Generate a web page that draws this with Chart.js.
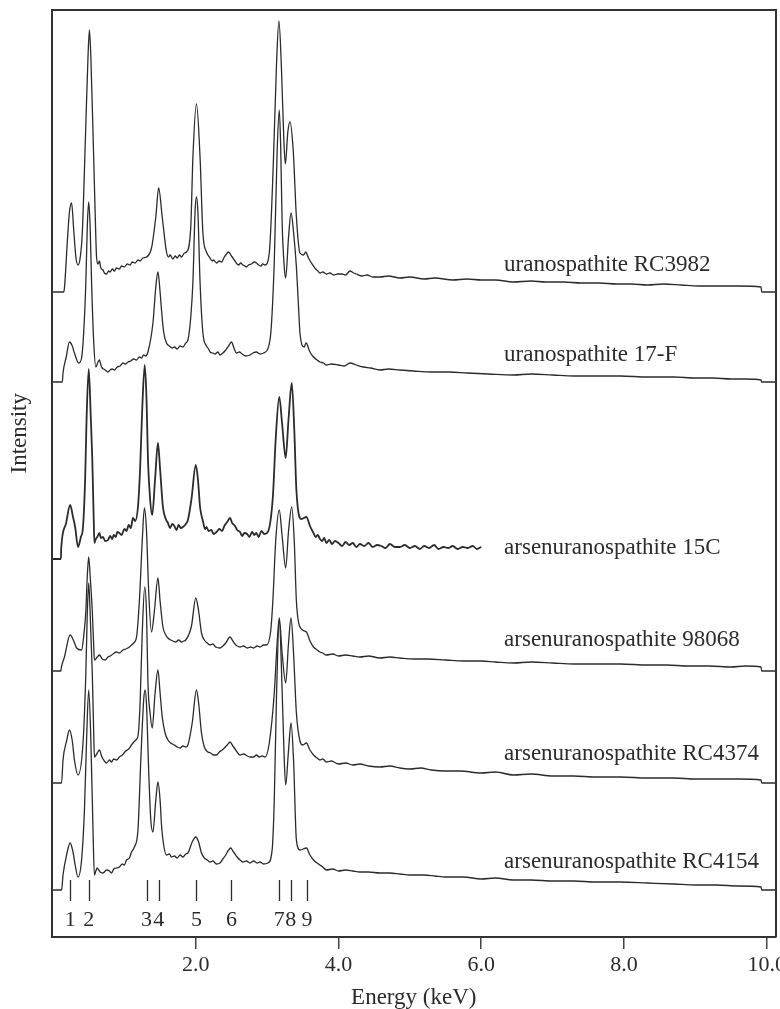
<!DOCTYPE html>
<html>
<head>
<meta charset="utf-8">
<script src="https://cdn.jsdelivr.net/npm/chart.js@4.4.1/dist/chart.umd.min.js"></script>
<style>
  html, body { margin: 0; padding: 0; background: #fff; overflow: hidden; }
</style>
</head>
<body>
<canvas id="chart" width="790" height="1009"></canvas>
<script>
// [energy keV, counts above that spectrum's own baseline]
const rc3982 = [[0,0],[0.15,0],[0.16,4],[0.20,50],[0.23,80],[0.26,89],[0.29,62],[0.32,35],[0.35,27],[0.38,34],[0.41,59],[0.456,159],[0.49,235],[0.51,262],[0.53,235],[0.56,160],[0.59,80],[0.61,35],[0.63,28],[0.65,31],[0.67,24],[0.70,22],[0.72,19],[0.75,18],[0.78,21],[0.80,20],[0.83,23],[0.86,21],[0.89,24],[0.93,23],[0.96,26],[1.00,25],[1.04,28],[1.08,27],[1.11,30],[1.15,29],[1.19,32],[1.22,31],[1.26,34],[1.31,35],[1.38,44],[1.44,75],[1.48,104],[1.53,75],[1.59,40],[1.62,35],[1.64,37],[1.68,33],[1.71,36],[1.74,34],[1.77,37],[1.80,35],[1.84,39],[1.87,40],[1.93,65],[1.96,135],[2.01,188],[2.06,135],[2.10,59],[2.15,40],[2.18,36],[2.20,34],[2.23,31],[2.25,32],[2.29,29],[2.33,31],[2.36,30],[2.40,35],[2.42,37],[2.46,40],[2.50,36],[2.53,33],[2.55,31],[2.58,28],[2.60,27],[2.63,29],[2.66,27],[2.69,26],[2.71,25],[2.74,27],[2.78,28],[2.82,30],[2.85,29],[2.88,27],[2.91,26],[2.94,28],[2.97,27],[3.03,39],[3.085,125],[3.13,225],[3.165,271],[3.20,225],[3.235,150],[3.255,128],[3.29,160],[3.32,170],[3.365,142],[3.41,75],[3.46,39],[3.51,37],[3.54,40],[3.58,34],[3.62,29],[3.65,26],[3.68,23],[3.71,21],[3.74,19],[3.78,20],[3.83,18],[3.88,19],[3.93,17],[3.99,18],[4.05,18],[4.10,17],[4.16,21],[4.21,19],[4.25,18],[4.33,16],[4.40,17],[4.48,15],[4.58,15],[4.70,16],[4.86,14],[5.0,15],[5.2,13],[5.35,14],[5.6,12],[5.8,13],[6.0,12],[6.2,12],[6.45,10],[6.7,11],[6.9,10],[7.15,10],[7.4,9],[7.65,9],[7.9,8],[8.1,8],[8.33,7],[8.55,8],[8.8,7],[9.05,6],[9.3,6],[9.6,6],[9.92,5],[9.93,0],[10.14,0]];
const f17 = [[0,0],[0.13,0],[0.14,9],[0.185,25],[0.23,40],[0.27,36],[0.30,29],[0.36,19],[0.40,24],[0.43,50],[0.46,100],[0.48,155],[0.50,180],[0.52,155],[0.54,100],[0.57,40],[0.60,15],[0.63,20],[0.65,22],[0.67,17],[0.69,14],[0.71,13],[0.73,12],[0.75,11],[0.77,10],[0.80,12],[0.83,13],[0.86,12],[0.90,15],[0.94,16],[0.98,19],[1.01,18],[1.05,20],[1.09,21],[1.13,23],[1.17,22],[1.21,25],[1.24,24],[1.27,27],[1.30,26],[1.33,30],[1.40,59],[1.44,95],[1.47,110],[1.50,90],[1.52,72],[1.55,50],[1.59,39],[1.63,36],[1.67,34],[1.70,35],[1.74,33],[1.78,36],[1.82,35],[1.86,39],[1.89,42],[1.93,65],[1.96,100],[1.99,170],[2.01,185],[2.03,170],[2.06,100],[2.10,49],[2.15,36],[2.18,33],[2.20,30],[2.24,29],[2.27,28],[2.31,30],[2.34,27],[2.38,29],[2.42,32],[2.46,36],[2.50,40],[2.54,33],[2.57,29],[2.61,30],[2.65,28],[2.70,26],[2.76,27],[2.80,29],[2.85,30],[2.90,28],[2.95,29],[3.04,42],[3.10,120],[3.14,230],[3.17,272],[3.19,235],[3.21,160],[3.24,115],[3.26,104],[3.30,145],[3.335,169],[3.37,150],[3.41,115],[3.44,75],[3.46,49],[3.52,35],[3.545,39],[3.60,30],[3.65,25],[3.70,22],[3.74,20],[3.79,19],[3.83,17],[3.90,18],[4.0,17],[4.08,16],[4.16,19],[4.25,17],[4.35,15],[4.45,14],[4.58,12],[4.70,13],[4.86,12],[5.05,11],[5.3,10],[5.55,10],[5.8,9],[6.1,8],[6.45,7],[6.7,8],[7.0,7],[7.3,6],[7.6,6],[7.95,6],[8.33,5],[8.7,5],[9.0,4],[9.25,4],[9.5,3],[9.7,3],[9.92,2],[9.93,0],[10.14,0]];
const c15 = [[0,0],[0.11,0],[0.115,11],[0.18,35],[0.24,54],[0.28,42],[0.31,32],[0.35,12],[0.39,22],[0.42,32],[0.45,80],[0.47,140],[0.50,190],[0.53,140],[0.55,100],[0.57,40],[0.58,16],[0.60,20],[0.62,22],[0.65,26],[0.67,21],[0.70,22],[0.73,18],[0.77,19],[0.80,23],[0.83,20],[0.85,24],[0.88,22],[0.90,27],[0.93,26],[0.96,24],[1.00,30],[1.03,28],[1.06,34],[1.09,31],[1.12,41],[1.15,38],[1.19,52],[1.22,90],[1.25,150],[1.285,194],[1.31,160],[1.33,100],[1.36,60],[1.39,44],[1.43,80],[1.47,116],[1.50,90],[1.54,52],[1.58,40],[1.61,36],[1.64,31],[1.67,35],[1.70,33],[1.73,29],[1.76,34],[1.79,31],[1.82,32],[1.86,35],[1.89,39],[1.94,60],[2.00,94],[2.03,80],[2.06,52],[2.10,38],[2.13,30],[2.15,32],[2.18,28],[2.22,29],[2.25,25],[2.29,27],[2.33,30],[2.37,28],[2.40,33],[2.44,37],[2.48,41],[2.51,36],[2.55,33],[2.58,29],[2.62,27],[2.65,23],[2.68,26],[2.72,25],[2.75,22],[2.79,27],[2.82,24],[2.85,26],[2.88,22],[2.92,28],[2.96,25],[3.01,27],[3.08,62],[3.12,120],[3.17,162],[3.21,135],[3.26,101],[3.30,140],[3.345,176],[3.38,130],[3.41,69],[3.48,40],[3.55,42],[3.60,33],[3.65,26],[3.68,22],[3.71,24],[3.74,20],[3.77,18],[3.80,21],[3.83,16],[3.87,19],[3.91,15],[3.95,18],[4.0,16],[4.05,13],[4.1,17],[4.15,14],[4.2,16],[4.25,12],[4.3,15],[4.36,13],[4.42,16],[4.48,12],[4.54,14],[4.6,13],[4.66,11],[4.72,15],[4.79,12],[4.86,12],[4.93,14],[5.0,11],[5.07,13],[5.14,10],[5.2,13],[5.27,11],[5.34,14],[5.4,10],[5.47,12],[5.54,11],[5.6,13],[5.67,10],[5.74,12],[5.81,11],[5.88,13],[5.94,10],[6.0,12]];
const s98068 = [[0,0],[0.11,0],[0.115,3],[0.16,14],[0.24,36],[0.29,30],[0.33,23],[0.40,21],[0.43,35],[0.46,60],[0.48,95],[0.50,114],[0.52,95],[0.55,60],[0.57,25],[0.58,11],[0.62,14],[0.65,16],[0.69,12],[0.73,11],[0.77,14],[0.80,15],[0.84,17],[0.89,19],[0.93,18],[0.98,21],[1.02,22],[1.07,24],[1.10,26],[1.13,28],[1.17,34],[1.21,70],[1.25,130],[1.28,163],[1.31,140],[1.34,80],[1.38,39],[1.42,60],[1.47,93],[1.50,70],[1.54,44],[1.58,36],[1.61,33],[1.65,31],[1.68,30],[1.72,29],[1.76,31],[1.80,29],[1.83,30],[1.86,31],[1.94,45],[2.00,73],[2.04,60],[2.08,38],[2.12,31],[2.16,28],[2.20,26],[2.24,27],[2.28,24],[2.34,23],[2.38,25],[2.42,28],[2.48,34],[2.52,30],[2.55,27],[2.58,25],[2.62,24],[2.67,25],[2.72,23],[2.77,24],[2.81,23],[2.86,25],[2.90,24],[2.95,26],[2.99,26],[3.05,40],[3.08,70],[3.12,130],[3.17,161],[3.21,135],[3.26,103],[3.30,140],[3.345,164],[3.38,130],[3.41,70],[3.46,44],[3.55,39],[3.60,30],[3.65,24],[3.70,21],[3.74,19],[3.78,18],[3.83,16],[3.92,17],[4.0,15],[4.1,16],[4.2,15],[4.3,14],[4.42,15],[4.58,13],[4.72,14],[4.86,13],[5.05,12],[5.25,12],[5.5,11],[5.75,10],[6.0,10],[6.2,9],[6.45,8],[6.7,9],[7.0,8],[7.3,7],[7.6,7],[7.95,7],[8.33,6],[8.6,6],[8.9,5],[9.2,5],[9.5,4],[9.7,5],[9.92,4],[9.93,0],[10.14,0]];
const rc4374 = [[0,0],[0.12,0],[0.14,23],[0.19,42],[0.23,53],[0.27,42],[0.30,23],[0.35,8],[0.42,40],[0.46,110],[0.48,170],[0.50,200],[0.52,170],[0.55,110],[0.57,50],[0.58,26],[0.62,30],[0.65,33],[0.68,27],[0.70,24],[0.73,21],[0.75,20],[0.79,23],[0.82,21],[0.85,24],[0.89,23],[0.93,26],[0.97,28],[1.02,32],[1.06,34],[1.09,37],[1.12,40],[1.16,43],[1.19,47],[1.22,80],[1.25,150],[1.285,196],[1.31,170],[1.33,100],[1.36,70],[1.39,55],[1.43,90],[1.47,113],[1.50,90],[1.53,66],[1.57,50],[1.61,43],[1.65,40],[1.70,38],[1.74,36],[1.78,35],[1.82,37],[1.86,36],[1.89,38],[1.95,60],[2.01,93],[2.04,80],[2.08,50],[2.12,36],[2.17,31],[2.21,30],[2.25,28],[2.29,28],[2.33,31],[2.37,33],[2.40,35],[2.44,38],[2.48,41],[2.52,37],[2.55,34],[2.58,31],[2.62,28],[2.67,29],[2.72,27],[2.76,26],[2.81,26],[2.85,28],[2.89,26],[2.93,27],[2.97,26],[3.03,40],[3.10,90],[3.14,140],[3.17,165],[3.21,130],[3.26,100],[3.30,140],[3.335,165],[3.37,130],[3.41,70],[3.46,42],[3.50,38],[3.55,40],[3.60,33],[3.65,28],[3.70,25],[3.74,23],[3.78,24],[3.83,21],[3.9,22],[4.0,19],[4.1,20],[4.2,18],[4.3,19],[4.42,17],[4.58,16],[4.72,17],[4.86,15],[5.0,14],[5.15,15],[5.3,13],[5.5,12],[5.7,12],[6.0,10],[6.2,11],[6.45,8],[6.7,9],[7.0,7],[7.3,7],[7.6,6],[7.95,6],[8.33,5],[8.7,5],[9.0,4],[9.3,4],[9.6,4],[9.92,3],[9.93,0],[10.14,0]];
const rc4154 = [[0,0],[0.12,0],[0.14,15],[0.19,35],[0.24,47],[0.28,38],[0.31,25],[0.35,13],[0.40,30],[0.44,80],[0.47,150],[0.50,200],[0.53,150],[0.56,60],[0.58,15],[0.60,19],[0.62,22],[0.64,20],[0.66,18],[0.70,17],[0.75,20],[0.79,19],[0.82,17],[0.85,21],[0.89,22],[0.93,23],[0.97,26],[1.00,25],[1.03,30],[1.07,32],[1.10,38],[1.14,43],[1.19,60],[1.23,130],[1.27,190],[1.29,200],[1.31,185],[1.34,120],[1.37,70],[1.40,58],[1.44,90],[1.47,108],[1.50,90],[1.52,65],[1.55,45],[1.59,35],[1.63,36],[1.66,33],[1.70,34],[1.74,32],[1.78,35],[1.82,33],[1.86,36],[1.89,37],[1.95,48],[2.00,53],[2.04,48],[2.08,37],[2.12,32],[2.16,30],[2.20,28],[2.24,29],[2.29,26],[2.34,27],[2.38,31],[2.42,35],[2.46,40],[2.49,42],[2.52,39],[2.55,36],[2.58,33],[2.62,30],[2.66,28],[2.71,29],[2.76,27],[2.81,29],[2.86,27],[2.90,28],[2.95,26],[3.01,27],[3.07,40],[3.10,90],[3.13,190],[3.17,270],[3.21,200],[3.24,130],[3.26,105],[3.30,140],[3.335,167],[3.37,130],[3.41,50],[3.46,40],[3.55,42],[3.60,35],[3.65,30],[3.70,27],[3.74,25],[3.78,23],[3.83,20],[3.92,21],[4.0,19],[4.1,20],[4.2,19],[4.3,18],[4.42,18],[4.58,17],[4.72,17],[4.86,16],[5.0,15],[5.2,15],[5.35,14],[5.5,13],[5.75,13],[6.0,11],[6.2,12],[6.45,10],[6.7,10],[7.0,9],[7.3,9],[7.6,8],[7.95,8],[8.33,7],[8.7,6],[9.0,5],[9.3,5],[9.6,4],[9.92,3],[9.93,0],[10.14,0]];

const sampleNames = ["uranospathite RC3982", "uranospathite 17-F", "arsenuranospathite 15C",
  "arsenuranospathite 98068", "arsenuranospathite RC4374", "arsenuranospathite RC4154"];
const spectra = [rc3982, f17, c15, s98068, rc4374, rc4154];
const offsets = [645, 555, 378, 266, 154, 47];

const peakNumbers = ["1", "2", "3", "4", "5", "6", "7", "8", "9"];
const peakEnergies = [0.24, 0.50, 1.31, 1.48, 2.01, 2.50, 3.17, 3.33, 3.56];
const xTicks = [2, 4, 6, 8, 10];

const serif = '"Liberation Serif", "Times New Roman", serif';
const ink = '#2b2b2b';
const nameLevels = [27, 27, 11, 31, 29, 28];

const annotate = {
  id: 'annotate',
  afterDatasetsDraw(chart) {
    const { ctx, chartArea: a, scales: { x, y } } = chart;
    ctx.save();
    ctx.strokeStyle = '#333';
    ctx.lineWidth = 2;
    ctx.beginPath();
    ctx.moveTo(a.left, a.top);
    ctx.lineTo(a.right, a.top);
    ctx.lineTo(a.right, a.bottom);
    ctx.stroke();

    ctx.fillStyle = ink;
    ctx.font = '23px ' + serif;
    ctx.textAlign = 'left';
    ctx.textBaseline = 'middle';
    sampleNames.forEach((n, i) => {
      ctx.fillText(n, x.getPixelForValue(6.32), y.getPixelForValue(offsets[i] + nameLevels[i]));
    });

    ctx.strokeStyle = ink;
    ctx.lineWidth = 1.3;
    ctx.textAlign = 'center';
    ctx.font = '22px ' + serif;
    peakEnergies.forEach((e, i) => {
      const px = Math.round(x.getPixelForValue(e)) + 0.5;
      ctx.beginPath();
      ctx.moveTo(px, y.getPixelForValue(57));
      ctx.lineTo(px, y.getPixelForValue(36));
      ctx.stroke();
      ctx.fillText(peakNumbers[i], x.getPixelForValue(e), y.getPixelForValue(17));
    });
    ctx.restore();
  }
};

new Chart(document.getElementById("chart"), {
  type: "line",
  data: {
    datasets: spectra.map((s, i) => ({
      label: sampleNames[i],
      data: s.map(p => ({ x: p[0], y: p[1] + offsets[i] })),
      borderColor: ink,
      borderWidth: i === 2 ? 1.8 : 1.3,
      pointRadius: 0,
      cubicInterpolationMode: 'monotone',
      fill: false
    }))
  },
  options: {
    responsive: false,
    animation: false,
    layout: { padding: { top: 10, right: 14, left: 0, bottom: 0 } },
    plugins: { legend: { display: false }, tooltip: { enabled: false } },
    scales: {
      x: {
        type: "linear",
        min: -0.02,
        max: 10.13,
        afterBuildTicks: (s) => { s.ticks = xTicks.map(v => ({ value: v })); },
        ticks: {
          callback: (v) => v.toFixed(1),
          font: { family: serif, size: 22 },
          color: ink,
          padding: 3,
          maxRotation: 0,
          autoSkip: false
        },
        grid: { display: true, drawOnChartArea: false, drawTicks: true, tickLength: 12, color: '#444', lineWidth: 1.5 },
        border: { display: true, color: '#333', width: 2 },
        title: { display: true, text: "Energy (keV)", font: { family: serif, size: 23 }, color: ink, padding: { top: 3, bottom: -3 } }
      },
      y: {
        min: 0,
        max: 927,
        ticks: { display: false },
        grid: { display: false, drawTicks: false },
        border: { display: true, color: '#333', width: 2 },
        title: { display: true, text: "              Intensity", font: { family: serif, size: 23 }, color: ink, padding: { top: 6, bottom: 18 } }
      }
    }
  },
  plugins: [annotate]
});
</script>
</body>
</html>
